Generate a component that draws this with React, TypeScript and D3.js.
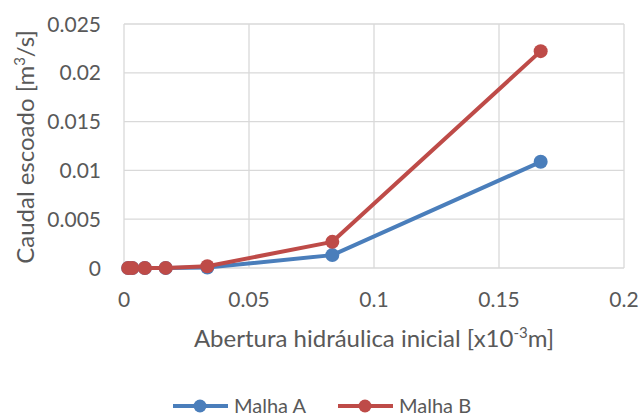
import React, { useRef, useEffect } from 'react';
import * as d3 from 'd3';

// Abertura hidráulica inicial [x10^-3 m]
const apertures = [0.00167, 0.00333, 0.00833, 0.01667, 0.03333, 0.08333, 0.16667];
// Caudal escoado [m3/s]
const malhaA = [0, 0, 0, 0.000005, 0.00004, 0.00132, 0.01088];
const malhaB = [0, 0, 0, 0.00001, 0.00018, 0.00268, 0.02222];
const xTicks = [0, 0.05, 0.1, 0.15, 0.2];
const yTicks = [0, 0.005, 0.01, 0.015, 0.02, 0.025];

const seriesList = [
  { name: 'Malha A', values: malhaA, color: '#4a7ebb' },
  { name: 'Malha B', values: malhaB, color: '#be4b48' },
];

const W = 641;
const H = 419;
const FONT = 'Lato, "Open Sans", sans-serif';
const TXT = '#595959';

const App: React.FC = () => {
  const svgRef = useRef<SVGSVGElement>(null);

  useEffect(() => {
    if (!svgRef.current) return;
    const svg = d3.select(svgRef.current);
    svg.selectAll('*').remove();

    const left = 124, right = 624, top = 24, bottom = 268;
    const x = d3.scaleLinear().domain([0, 0.2]).range([left, right]);
    const y = d3.scaleLinear().domain([0, 0.025]).range([bottom, top]);

    // grid
    const grid = svg.append('g');
    xTicks.forEach(t => {
      grid.append('line')
        .attr('x1', x(t)).attr('x2', x(t))
        .attr('y1', top).attr('y2', bottom)
        .attr('stroke', '#d9d9d9').attr('stroke-width', 1.3);
    });
    yTicks.forEach(t => {
      grid.append('line')
        .attr('x1', left).attr('x2', right)
        .attr('y1', y(t)).attr('y2', y(t))
        .attr('stroke', '#d9d9d9').attr('stroke-width', 1.3);
    });

    // tick labels
    yTicks.forEach(t => {
      svg.append('text')
        .attr('x', left - 23).attr('y', y(t))
        .attr('dy', '0.36em')
        .attr('text-anchor', 'end')
        .style('font-family', FONT).style('font-size', '21px').style('fill', TXT)
        .text(String(t));
    });
    xTicks.forEach(t => {
      svg.append('text')
        .attr('x', x(t)).attr('y', 307)
        .attr('text-anchor', 'middle')
        .style('font-family', FONT).style('font-size', '21px').style('fill', TXT)
        .text(String(t));
    });

    // axis titles
    const xt = svg.append('text')
      .attr('x', 374).attr('y', 347)
      .attr('text-anchor', 'middle')
      .style('font-family', FONT).style('font-size', '24px').style('fill', TXT);
    xt.append('tspan').text('Abertura hidráulica inicial [x10');
    xt.append('tspan').attr('dy', -9).style('font-size', '15px').text('-3');
    xt.append('tspan').attr('dy', 9).text('m]');

    const yt = svg.append('text')
      .attr('transform', `translate(34, 147) rotate(-90)`)
      .attr('text-anchor', 'middle')
      .style('font-family', FONT).style('font-size', '24px').style('fill', TXT);
    yt.append('tspan').text('Caudal escoado [m');
    yt.append('tspan').attr('dy', -9).style('font-size', '15px').text('3');
    yt.append('tspan').attr('dy', 9).text('/s]');

    // series
    const line = d3.line<number>()
      .x((_, i) => x(apertures[i]))
      .y(d => y(d));

    seriesList.forEach(s => {
      const g = svg.append('g');
      g.append('path')
        .attr('d', line(s.values) || '')
        .attr('fill', 'none')
        .attr('stroke', s.color)
        .attr('stroke-width', 4)
        .attr('stroke-linejoin', 'round');
      g.selectAll('circle')
        .data(s.values)
        .enter()
        .append('circle')
        .attr('cx', (_, i) => x(apertures[i]))
        .attr('cy', d => y(d))
        .attr('r', 7)
        .attr('fill', s.color);
    });

    // legend
    const legendX = [173, 338];
    seriesList.forEach((s, i) => {
      const lg = svg.append('g').attr('transform', `translate(${legendX[i]}, 406)`);
      lg.append('line')
        .attr('x1', 0).attr('x2', 55)
        .attr('stroke', s.color).attr('stroke-width', 4);
      lg.append('circle').attr('cx', 27).attr('r', 6.5).attr('fill', s.color);
      lg.append('text')
        .attr('x', 61).attr('dy', '0.36em')
        .style('font-family', FONT).style('font-size', '20px').style('fill', TXT)
        .text(s.name);
    });
  }, []);

  return (
    <svg
      ref={svgRef}
      width={W}
      height={H}
      style={{ position: 'absolute', left: 0, top: 0, background: '#fff' }}
    />
  );
};

export default App;
